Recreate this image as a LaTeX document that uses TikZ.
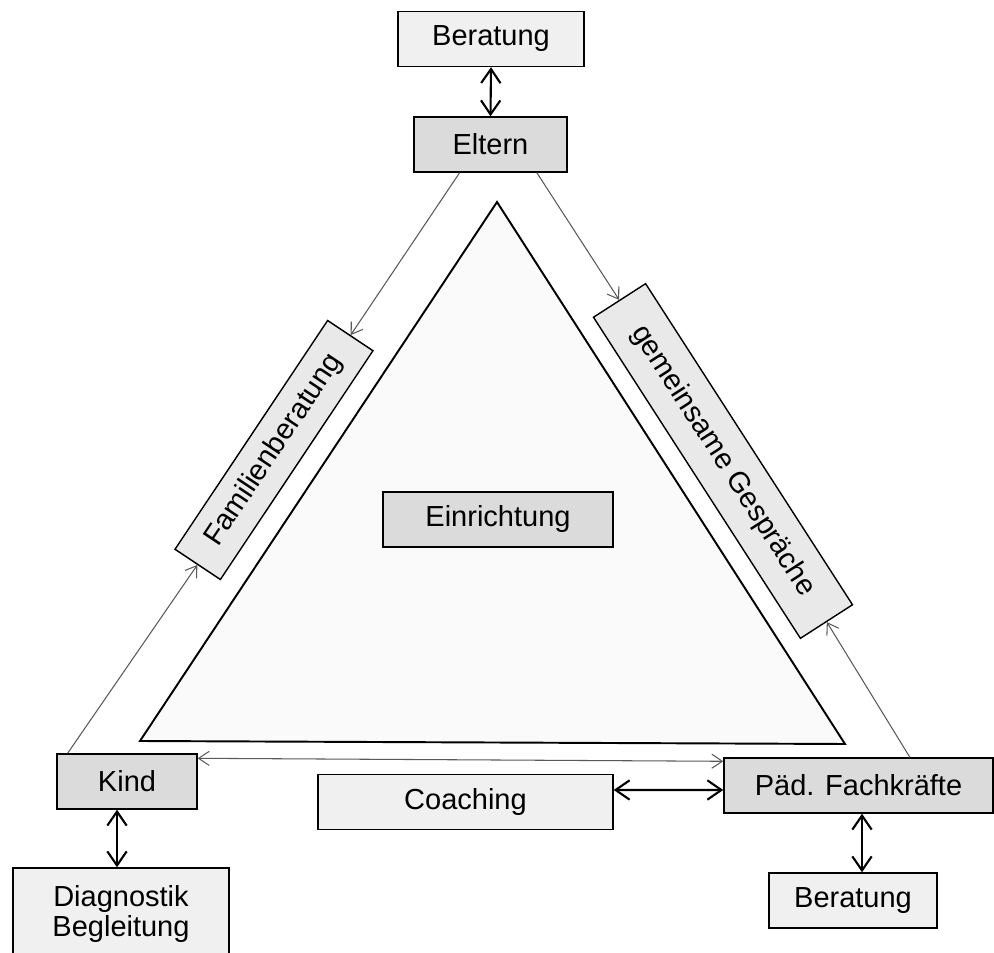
\documentclass[tikz,border=0pt]{standalone}
\usepackage{fontspec}
\setmainfont{Liberation Sans}
\usetikzlibrary{calc,arrows.meta}
\tikzset{
  box/.style={draw=black, line width=0.8pt, inner sep=2pt, minimum height=1.1cm, font=\fontsize{16.5}{17}\selectfont},
  lightbox/.style={box, fill=gray!12},
  darkbox/.style={box, fill=gray!28},
  slantbox/.style={box, fill=gray!17},
  triframe/.style={draw=black, line width=1.1pt, fill=gray!4},
  twoway/.style={{Straight Barb[length=8pt,width=11pt]}-{Straight Barb[length=8pt,width=11pt]}, line width=1.2pt},
  feed/.style={-{Straight Barb[length=6pt,width=8pt]}, draw=gray!70!black, line width=0.6pt},
  feedboth/.style={feed, {Straight Barb[length=6pt,width=8pt]}-{Straight Barb[length=6pt,width=8pt]}}
}

\begin{document}
\begin{tikzpicture}
  \useasboundingbox (0,0) rectangle (19.88,-19.06);
  % Dreieck Einrichtung
  \coordinate (top) at (9.94,-4.04);
  \coordinate (left) at (2.8,-14.82);
  \coordinate (right) at (16.9,-14.88);
  \draw[triframe] (top)--(left)--(right)--cycle;

  % Knoten oben
  \node[lightbox, minimum width=3.72cm] (ber1) at (9.82,-0.78) {Beratung};
  \node[darkbox, minimum width=3.06cm] (eltern) at (9.81,-2.89) {Eltern};
  \node[darkbox, minimum width=4.6cm] (einr) at (9.96,-10.39) {Einrichtung};

  % Knoten schraeg
  \node[slantbox, minimum width=5.5cm, minimum height=1.09cm, rotate=56.3] (fam) at (5.48,-9.0) {Familienberatung};
  \node[slantbox, minimum width=7.64cm, minimum height=1.24cm, rotate=-57.2] (gem) at (14.46,-9.22) {gemeinsame Gespräche};

  % Knoten unten
  \node[darkbox, minimum width=2.8cm] (kind) at (2.54,-15.63) {Kind};
  \node[lightbox, minimum width=4.32cm, minimum height=1.84cm, align=center] (diag) at (2.42,-18.28) {Diagnostik\\Begleitung};
  \node[lightbox, minimum width=5.9cm] (coach) at (9.31,-16.04) {Coaching};
  \node[darkbox, minimum width=5.38cm] (paed) at (17.17,-15.71) {Päd. Fachkräfte};
  \node[lightbox, minimum width=3.36cm] (ber2) at (17.06,-18.01) {Beratung};

  % Verbindungen
  \draw[twoway] (ber1.south) -- (eltern.north);
  \draw[feed] ($(eltern.south west)!0.3!(eltern.south east)$) -- (fam.east);
  \draw[feed] ($(eltern.south west)!0.8!(eltern.south east)$) -- (gem.west);
  \draw[feed] ($(kind.north west)!0.08!(kind.north east)$) -- (fam.west);
  \draw[feed] ($(paed.north west)!0.69!(paed.north east)$) -- (gem.east);
  \draw[feedboth] ([yshift=-0.1cm]kind.north east) -- ([yshift=-0.08cm]paed.north west);
  \draw[twoway] ([yshift=0.24cm]coach.east) -- ([yshift=-0.09cm]paed.west);
  \coordinate (kd) at ([xshift=-0.2cm]kind.south);
  \draw[twoway] (kd) -- (kd |- diag.north);
  \coordinate (pd) at ([xshift=0.07cm]paed.south);
  \draw[twoway] (pd) -- (pd |- ber2.north);
\end{tikzpicture}
\end{document}
